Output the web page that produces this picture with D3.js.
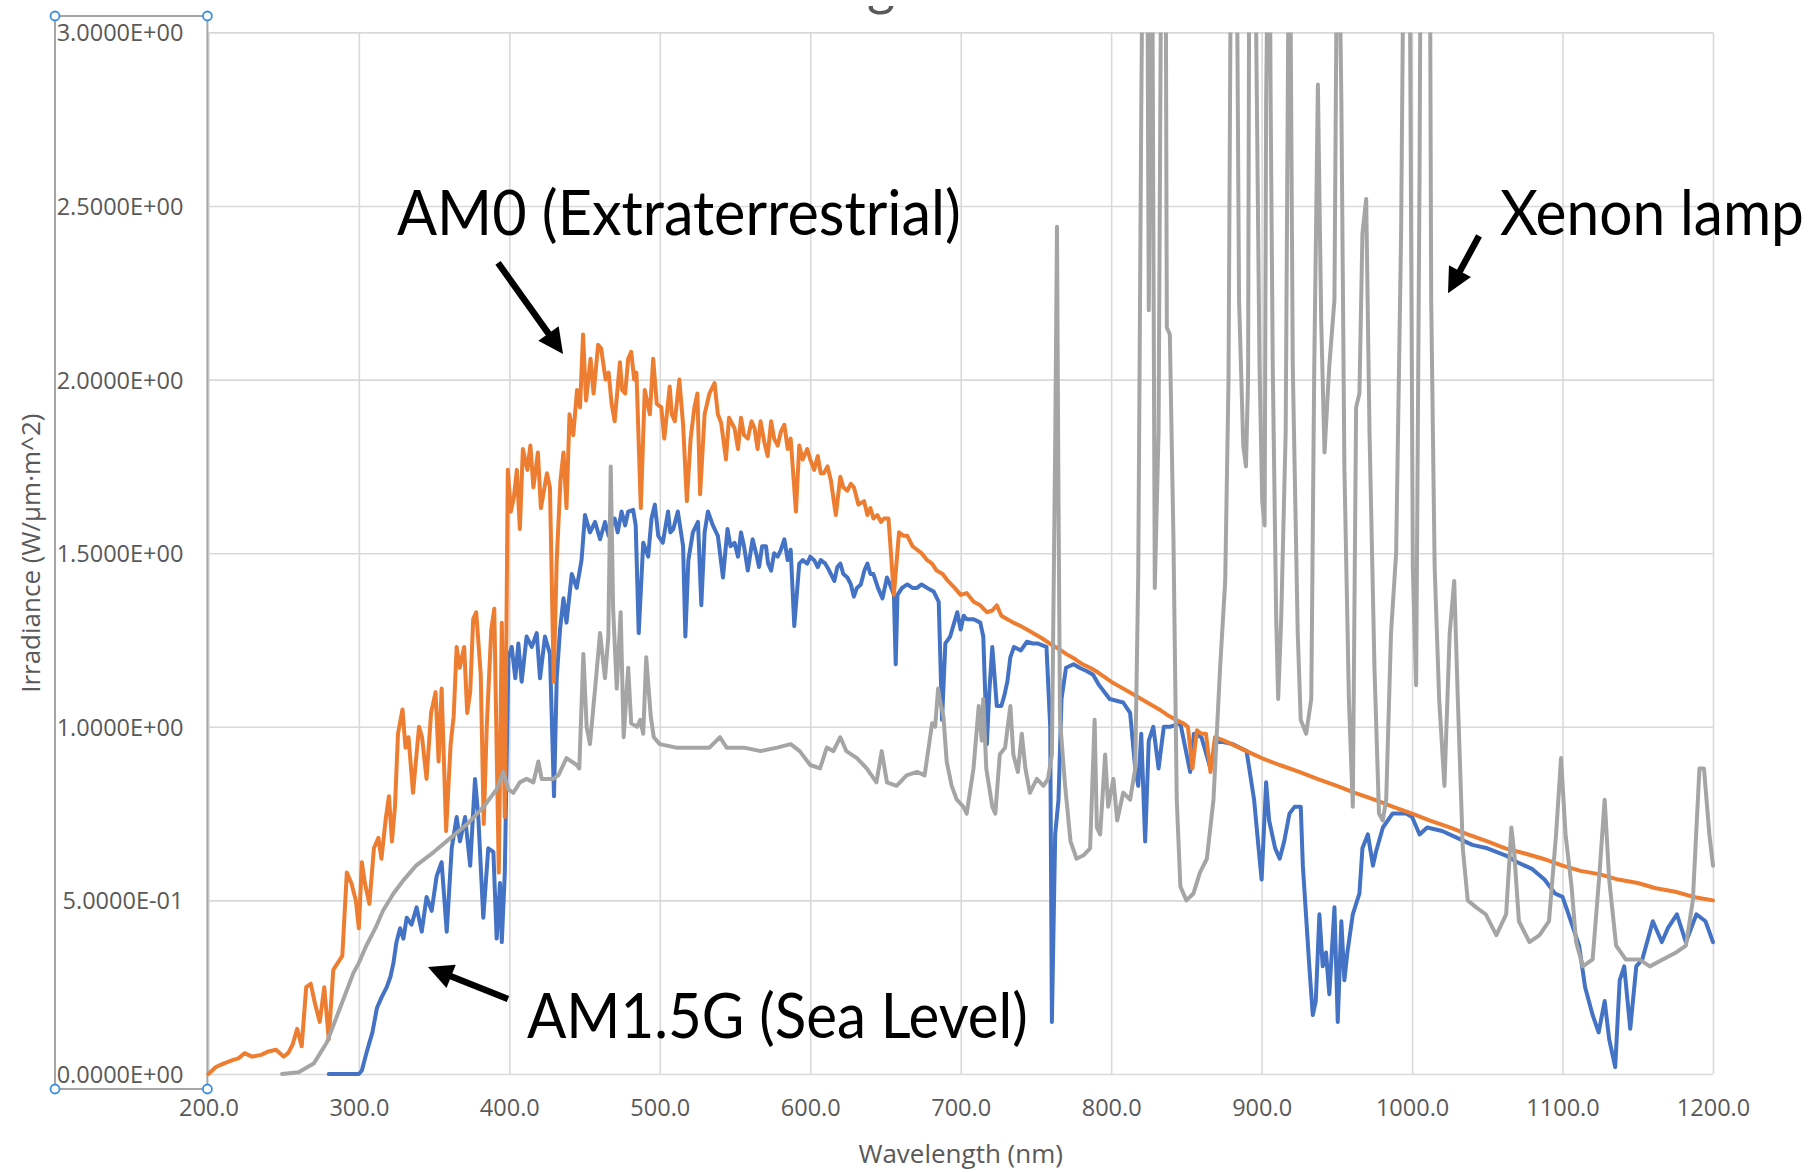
<!DOCTYPE html>
<html><head><meta charset="utf-8">
<script src="https://cdn.jsdelivr.net/npm/d3@7"></script>
<style>
html,body{margin:0;padding:0;background:#fff;}
svg{display:block;}
</style></head><body>
<svg id="chart" width="1815" height="1172"></svg>
<script>
// ---------- data ----------
const xTicks = [200, 300, 400, 500, 600, 700, 800, 900, 1000, 1100, 1200];
const yTicks = [0, 0.5, 1.0, 1.5, 2.0, 2.5, 3.0];

// AM0 (Extraterrestrial) : [wavelength nm, irradiance W/(µm·m²)]
const am0 = [
[200,0.0],[205,0.02],[210,0.03],[216,0.04],[220,0.045],[224,0.06],[229,0.05],[235,0.055],[240,0.065],[245,0.07],
[250,0.05],[253,0.06],[256,0.085],[259,0.13],[262,0.08],[265,0.25],[268,0.26],[271,0.2],[274,0.15],[277,0.25],
[280,0.1],[283,0.3],[286,0.32],[289,0.34],[292,0.58],[295,0.55],[298,0.5],[300,0.42],[302,0.61],[304,0.55],
[307,0.49],[310,0.65],[313,0.68],[315,0.62],[318,0.74],[320,0.8],[322,0.67],[324,0.77],[326,0.98],[329,1.05],
[331,0.94],[333,0.97],[336,0.81],[340,1.0],[342,0.97],[345,0.85],[348,1.04],[351,1.1],[353,0.9],[355,1.11],
[358,0.7],[361,0.95],[363,1.03],[365,1.23],[367,1.17],[370,1.23],[372,1.04],[374,1.1],[376,1.31],[378,1.33],
[381,1.15],[383,0.72],[385,1.0],[388,1.28],[390,1.34],[393,0.58],[395,1.3],[397,0.74],[399,1.74],[401,1.62],
[403,1.66],[405,1.74],[407,1.57],[409,1.8],[412,1.74],[414,1.81],[416,1.69],[419,1.79],[421,1.63],[425,1.73],
[427,1.69],[429.5,1.13],[431.5,1.48],[434,1.71],[436,1.79],[438,1.63],[440,1.9],[442.5,1.84],[445,1.97],[447,1.92],
[449,2.13],[451,1.94],[454,2.06],[456,1.96],[459,2.1],[461,2.09],[464,2.0],[466,2.02],[468,1.93],[470,1.88],
[473.5,2.05],[475,1.97],[477,1.96],[479,2.06],[481,2.08],[483,2.0],[484.5,2.02],[487.4,1.63],[490,1.97],[493.4,1.9],
[495.6,2.06],[498,1.93],[501,1.92],[503,1.83],[506.6,1.98],[508,1.9],[510,1.88],[513,2.0],[515.5,1.87],[518,1.65],
[520.5,1.83],[523,1.92],[525,1.96],[526.8,1.67],[529.8,1.9],[533,1.96],[536.4,1.99],[538.6,1.9],[540.8,1.875],[544,1.77],
[546,1.89],[549.7,1.86],[552,1.8],[554,1.89],[556,1.84],[558.5,1.83],[561,1.88],[563,1.86],[565,1.8],[567,1.88],
[569.5,1.82],[571.7,1.78],[574,1.88],[576,1.83],[578.4,1.81],[580.5,1.85],[582.8,1.87],[585,1.8],[587,1.83],[590.5,1.62],
[592.7,1.81],[595,1.77],[598,1.8],[600,1.77],[602.6,1.74],[605,1.78],[607,1.73],[609,1.73],[611.5,1.75],[613.7,1.71],
[617,1.61],[620,1.72],[622,1.69],[624.7,1.68],[627,1.7],[629,1.69],[632,1.64],[635.8,1.65],[638,1.61],[640,1.63],
[642,1.6],[644.6,1.61],[647,1.59],[649,1.6],[652,1.6],[655.6,1.38],[659,1.56],[662,1.55],[664.5,1.55],[668,1.52],
[671,1.51],[674,1.5],[677.7,1.48],[681,1.47],[684,1.45],[688,1.44],[691.5,1.42],[696,1.4],[700,1.38],[704,1.385],
[708.6,1.36],[713,1.35],[717.4,1.33],[721,1.335],[724,1.35],[727,1.32],[731,1.31],[735,1.3],[740,1.29],[744,1.28],
[748,1.27],[754,1.255],[759,1.24],[765,1.225],[770,1.21],[776,1.195],[781,1.18],[786,1.17],[790,1.16],[795,1.145],
[800,1.13],[806,1.115],[812,1.1],[818,1.085],[826,1.065],[832,1.05],[837,1.035],[843,1.02],[848,1.01],[851,1.0],
[854,0.88],[857,0.99],[860,0.98],[863,0.98],[866,0.87],[869,0.97],[875,0.96],[880,0.95],[885,0.94],[890,0.93],
[895,0.92],[900,0.91],[912,0.89],[925,0.87],[937,0.85],[950,0.83],[962,0.81],[975,0.79],[987,0.77],[1000,0.75],
[1012,0.73],[1025,0.71],[1037,0.69],[1050,0.67],[1062,0.65],[1075,0.635],[1087,0.62],[1100,0.6],[1112,0.585],[1125,0.575],
[1137,0.56],[1150,0.55],[1162,0.535],[1175,0.525],[1187,0.51],[1200,0.5]
];

// AM1.5G (Sea Level)
const am15g = [
[280,0.0],[300,0.0],[302,0.01],[305,0.06],[309,0.12],[312,0.19],[315,0.22],[318.5,0.25],[321,0.28],[323,0.32],
[325,0.38],[327.4,0.42],[329.6,0.39],[331.8,0.45],[335,0.43],[338.4,0.48],[341.8,0.41],[345,0.51],[348.4,0.47],[351.7,0.57],
[355,0.61],[358.4,0.41],[361.7,0.65],[365,0.74],[367.2,0.67],[370.6,0.74],[374,0.6],[377.2,0.85],[379.4,0.74],[382.7,0.45],
[386,0.65],[389.4,0.64],[391.6,0.39],[393.8,0.55],[395,0.38],[397,0.58],[399.4,1.2],[401.6,1.23],[404,1.14],[406,1.24],
[408.2,1.13],[411.5,1.26],[414.9,1.23],[418.2,1.27],[420.4,1.14],[423.7,1.26],[427,1.21],[429.7,0.8],[431.5,1.14],[433.7,1.28],
[436,1.37],[438,1.3],[441.5,1.44],[444.8,1.4],[448,1.48],[450.3,1.61],[453.6,1.56],[457,1.59],[460.3,1.54],[463.6,1.59],
[466,1.55],[468,1.58],[470,1.6],[472,1.56],[474.6,1.62],[477,1.58],[479,1.62],[482.3,1.625],[484,1.58],[486,1.27],
[489,1.53],[492.3,1.49],[494.5,1.6],[496.7,1.64],[499,1.55],[502,1.53],[505.5,1.62],[507,1.56],[509,1.57],[512,1.62],
[515.5,1.52],[517,1.26],[519,1.48],[522,1.56],[525.4,1.59],[527.6,1.35],[529.8,1.56],[532,1.62],[535.3,1.58],[538.6,1.55],
[542,1.43],[545,1.57],[547,1.52],[549.7,1.53],[552,1.49],[554,1.56],[556,1.52],[558.5,1.45],[561.7,1.54],[564,1.5],
[566,1.46],[568,1.52],[570.6,1.52],[572,1.47],[574,1.45],[576,1.5],[578.4,1.49],[580.5,1.51],[582.8,1.54],[585,1.48],
[587,1.51],[589.4,1.29],[592.7,1.47],[595,1.48],[598,1.47],[600,1.49],[602.6,1.48],[605,1.46],[607,1.48],[610,1.47],
[612.6,1.45],[616,1.42],[618,1.46],[620,1.47],[622,1.44],[624.7,1.43],[627,1.41],[629,1.375],[631,1.4],[633.6,1.41],
[636,1.45],[638,1.47],[640,1.44],[642,1.44],[645,1.4],[648,1.37],[651,1.43],[653,1.41],[655.6,1.38],[656.8,1.18],
[658,1.38],[661,1.4],[664.5,1.41],[668,1.4],[671,1.4],[674,1.41],[677.7,1.4],[682,1.39],[685.4,1.36],[687.6,1.02],
[689.8,1.24],[693,1.26],[695,1.29],[697.7,1.33],[700,1.28],[702,1.32],[704,1.31],[708.6,1.31],[713,1.3],[715,1.26],
[717.4,0.95],[719,1.1],[721,1.23],[724,1.06],[727,1.06],[729,1.09],[731,1.13],[733,1.2],[735.4,1.23],[740,1.22],
[744,1.245],[748,1.24],[751,1.24],[757,1.23],[759.5,1.0],[760.6,0.15],[762.8,0.69],[765,0.79],[767,1.08],[770,1.17],
[775,1.18],[779,1.17],[784,1.16],[788,1.15],[792,1.12],[799,1.08],[808,1.07],[812.6,1.04],[816,0.88],[818,0.83],
[820,0.98],[822.6,0.67],[825,0.96],[828,1.0],[831.5,0.88],[835,1.0],[839,1.0],[846,1.01],[852.5,0.87],[855,0.98],
[860,0.97],[866,0.88],[870,0.96],[881,0.95],[890,0.93],[895,0.79],[898,0.65],[900,0.56],[903,0.84],[905,0.73],
[909,0.65],[912,0.62],[915,0.67],[918.5,0.75],[922,0.77],[926,0.77],[927.4,0.6],[931.7,0.31],[934,0.17],[936,0.21],
[938.4,0.46],[940.6,0.31],[942.8,0.35],[945,0.23],[948.4,0.48],[950.6,0.15],[953,0.44],[955,0.27],[957,0.35],[960.6,0.46],
[965,0.52],[967,0.65],[970.6,0.69],[974,0.6],[976,0.64],[980.6,0.71],[987,0.75],[996,0.75],[1000,0.74],[1005,0.69],
[1010,0.71],[1020,0.7],[1030,0.68],[1040,0.66],[1050,0.65],[1062,0.63],[1070,0.61],[1080,0.59],[1088,0.56],[1095,0.52],
[1100,0.51],[1104,0.46],[1111,0.37],[1115,0.25],[1120,0.17],[1124,0.12],[1128,0.21],[1131,0.1],[1133,0.06],[1135,0.02],
[1138,0.27],[1141,0.31],[1145,0.13],[1149,0.31],[1153,0.33],[1160,0.44],[1166,0.38],[1170,0.42],[1176,0.46],[1182,0.38],
[1189,0.46],[1195,0.44],[1200,0.38]
];

// Xenon lamp (values above 3.0 run off the top of the axis)
const xenon = [
[249,0.0],[260,0.005],[270,0.03],[278.6,0.09],[287.5,0.19],[296.3,0.29],[300,0.32],[305,0.37],[311,0.42],[316,0.47],
[323,0.52],[330,0.56],[338,0.6],[350,0.64],[361,0.68],[372,0.72],[383,0.77],[391.6,0.82],[396,0.87],[399.4,0.82],
[402.7,0.81],[407,0.84],[411.5,0.85],[416,0.84],[419.3,0.9],[421.5,0.85],[429,0.85],[432.6,0.86],[438,0.91],[444.8,0.89],
[446.5,0.88],[449.2,1.21],[451.4,1.0],[453.6,0.95],[457,1.11],[460.3,1.27],[463.6,1.14],[465.8,1.26],[467.4,1.75],[469,1.34],
[471.4,1.11],[474,1.33],[476,0.97],[479,1.17],[481,1.01],[485,1.0],[487,1.02],[489,0.98],[491,1.2],[494,1.03],
[496,0.97],[500,0.95],[511,0.94],[522,0.94],[533,0.94],[540,0.97],[544.5,0.94],[556,0.94],[567,0.93],[578,0.94],
[587,0.95],[593,0.93],[600,0.89],[606.5,0.88],[611,0.94],[615.4,0.93],[620,0.97],[624,0.93],[631,0.91],[637.5,0.88],
[644,0.84],[647.5,0.93],[651,0.84],[657.4,0.83],[664,0.86],[671,0.87],[676,0.86],[681,1.01],[683,1.0],[685,1.11],
[686,1.08],[688.5,1.03],[690.7,0.9],[694,0.83],[697.4,0.79],[701.7,0.77],[704,0.75],[708.5,0.88],[712,1.06],[714,0.96],
[715,1.08],[717,0.88],[721,0.77],[723,0.75],[726,0.92],[729.5,0.94],[733,1.06],[735,0.92],[738,0.87],[740.6,0.98],
[743,0.88],[746,0.81],[750.6,0.85],[755,0.83],[758,0.85],[760.6,0.92],[762.8,1.81],[764,2.44],[765,1.65],[766,1.02],
[769.4,0.83],[773,0.67],[777,0.62],[781.6,0.63],[786,0.65],[789,1.02],[790.5,0.71],[792.7,0.69],[796,0.92],[798,0.77],
[801.5,0.85],[804,0.73],[808,0.81],[812.6,0.79],[816,0.88],[818,1.44],[820,2.77],[821.5,3.6],[823.7,3.6],[825,2.2],
[827,3.6],[829,1.4],[831.5,1.85],[833.7,3.6],[836,3.6],[837,2.15],[839,2.13],[841.4,1.54],[843.6,0.79],[846,0.54],
[850,0.5],[854.7,0.52],[859,0.58],[863.6,0.62],[868,0.79],[872.4,1.17],[875.8,1.42],[878,2.0],[880,3.6],[883,3.6],
[885,2.23],[887.8,1.81],[889.6,1.75],[891,2.0],[892,3.6],[895,3.6],[898.6,2.04],[900.4,1.65],[902,1.58],[903,2.8],
[905,3.6],[906,2.8],[907.4,2.04],[909.7,1.31],[911,1.08],[913,1.31],[916,1.85],[918.5,3.6],[920.7,2.04],[924,1.27],
[926,1.02],[929.6,0.98],[933,1.08],[935,2.04],[937.4,2.85],[939.6,2.17],[941.8,1.79],[945,2.04],[948.4,2.23],[950.6,3.6],
[953,2.8],[955,1.75],[958,1.08],[960.6,0.77],[962.8,1.92],[965,1.96],[967,2.42],[969.5,2.52],[971.7,1.85],[975,1.17],
[978,0.75],[980.5,0.73],[982.8,0.79],[986,1.27],[989.4,1.5],[992.7,2.42],[995,3.6],[998,3.6],[1000.5,1.46],[1002.7,1.12],
[1005,2.62],[1006,3.6],[1011.6,3.6],[1012.7,2.23],[1015,1.46],[1018,1.08],[1021.5,0.83],[1025,1.27],[1028,1.42],[1030.4,1.08],
[1033.7,0.65],[1037,0.5],[1042.6,0.48],[1049,0.46],[1056,0.4],[1062.5,0.46],[1066,0.71],[1068,0.63],[1071,0.44],[1078,0.38],
[1084.7,0.4],[1091,0.44],[1095.7,0.69],[1099,0.91],[1102,0.69],[1106,0.54],[1109,0.38],[1113.5,0.31],[1120,0.33],[1124.6,0.58],
[1128,0.79],[1131,0.56],[1135.6,0.37],[1142,0.33],[1151,0.33],[1158,0.31],[1166.6,0.33],[1175.5,0.35],[1182,0.37],[1186.6,0.5],
[1191,0.88],[1194,0.88],[1197.6,0.69],[1200,0.6]
];

const seriesNames = ["AM1.5G (Sea Level)", "AM0 (Extraterrestrial)", "Xenon lamp"];
const seriesColors = ["#4472C4", "#ED7D31", "#A5A5A5"];

// annotations, anchored in data space [nm, W/(µm·m²)]
const labelTexts = ["AM0 (Extraterrestrial)", "Xenon lamp", "AM1.5G (Sea Level)"];
const labelAnchors = [[325.3, 2.416], [1058.4, 2.416], [411.7, 0.104]];
const labelWidths = [564, 304, 501];
const arrowTails = [[392.5, 2.336], [1044.5, 2.414], [399.1, 0.216]];
const arrowTips  = [[435.7, 2.074], [1023.9, 2.249], [345.9, 0.308]];

// ---------- chart ----------
const svg = d3.select("#chart");
const plot = {left: 208.4, right: 1713, top: 32.4, bottom: 1074};
const x = d3.scaleLinear().domain([200, 1200]).range([plot.left, plot.right]);
const y = d3.scaleLinear().domain([0, 3]).range([plot.bottom, plot.top]);
const tickFont = "'Open Sans', 'DejaVu Sans', sans-serif";
const grey = "#595959";

svg.append("rect").attr("width", 1815).attr("height", 1172).attr("fill", "#fff");

const defs = svg.append("defs");
defs.append("clipPath").attr("id", "plotClip").append("rect")
  .attr("x", plot.left - 3).attr("y", plot.top)
  .attr("width", plot.right - plot.left + 6).attr("height", plot.bottom - plot.top + 4);
defs.append("clipPath").attr("id", "titleClip").append("rect")
  .attr("x", 840).attr("y", 6).attr("width", 80).attr("height", 16);

// cut-off chart title remnant
svg.append("text").attr("clip-path", "url(#titleClip)")
  .attr("x", 881).attr("y", 5).attr("text-anchor", "middle")
  .attr("font-family", "Lato, sans-serif").attr("font-size", 54).attr("fill", grey)
  .text("g");

// vertical gridlines
svg.append("g").attr("transform", `translate(0,${plot.bottom})`)
  .call(d3.axisBottom(x).tickValues(xTicks).tickSize(-(plot.bottom - plot.top)).tickFormat(""))
  .call(g => g.select(".domain").remove())
  .call(g => g.selectAll("line").attr("stroke", "#d9d9d9").attr("stroke-width", 1.6));
// horizontal gridlines
svg.append("g").attr("transform", `translate(${plot.left},0)`)
  .call(d3.axisLeft(y).tickValues(yTicks).tickSize(-(plot.right - plot.left)).tickFormat(""))
  .call(g => g.select(".domain").remove())
  .call(g => g.selectAll("line").attr("stroke", "#d9d9d9").attr("stroke-width", 1.6));

// selected-axis frame with handles (as in the source screenshot)
const frame = {x0: 55, x1: plot.left - 1, y0: 16, y1: 1089};
svg.append("rect").attr("x", frame.x0).attr("y", frame.y0)
  .attr("width", frame.x1 - frame.x0).attr("height", frame.y1 - frame.y0)
  .attr("fill", "none").attr("stroke", "#a6a6a6").attr("stroke-width", 2);

// y tick labels
const expFmt = v => {
  const [m, e] = v.toExponential(4).split("e");
  return m + "E" + e[0] + e.slice(1).padStart(2, "0");
};
svg.append("g").attr("transform", `translate(${plot.left},0)`)
  .call(d3.axisLeft(y).tickValues(yTicks).tickSize(0).tickPadding(25).tickFormat(expFmt))
  .call(g => g.select(".domain").remove())
  .call(g => g.selectAll("text").attr("font-family", tickFont).attr("font-size", 23.5)
      .attr("fill", grey).attr("dy", "0.36em"));

// x tick labels
svg.append("g").attr("transform", `translate(0,${plot.bottom})`)
  .call(d3.axisBottom(x).tickValues(xTicks).tickSize(0).tickPadding(25).tickFormat(d3.format(".1f")))
  .call(g => g.select(".domain").remove())
  .call(g => g.selectAll("text").attr("font-family", tickFont).attr("font-size", 23.5).attr("fill", grey));

// axis titles
svg.append("text").attr("x", (plot.left + plot.right) / 2).attr("y", 1163)
  .attr("text-anchor", "middle").attr("font-family", tickFont).attr("font-size", 26)
  .attr("fill", grey).text("Wavelength (nm)");
svg.append("text").attr("transform", `translate(40,${(plot.top + plot.bottom) / 2}) rotate(-90)`)
  .attr("text-anchor", "middle").attr("font-family", tickFont).attr("font-size", 26)
  .attr("fill", grey).text("Irradiance (W/µm·m^2)");

// series lines
const line = d3.line().x(d => x(d[0])).y(d => y(d[1]));
const seriesData = [am15g, am0, xenon];
svg.append("g").attr("clip-path", "url(#plotClip)")
  .selectAll("path").data(seriesData).join("path")
  .attr("d", line).attr("fill", "none")
  .attr("stroke", (d, i) => seriesColors[i]).attr("stroke-width", 4)
  .attr("stroke-linejoin", "round").attr("stroke-linecap", "round");

// handles on the selected-axis frame
[[frame.x0, frame.y0], [frame.x1, frame.y0], [frame.x0, frame.y1], [frame.x1, frame.y1]].forEach(p => {
  svg.append("circle").attr("cx", p[0]).attr("cy", p[1]).attr("r", 4.5)
    .attr("fill", "#fff").attr("stroke", "#3b8ee0").attr("stroke-width", 1.8);
});

// annotations
const ann = svg.append("g");
labelTexts.forEach((t, i) => {
  ann.append("text").attr("x", x(labelAnchors[i][0])).attr("y", y(labelAnchors[i][1]))
    .attr("font-family", "Lato, 'Open Sans', sans-serif").attr("font-size", 61)
    .attr("textLength", labelWidths[i]).attr("lengthAdjust", "spacingAndGlyphs")
    .attr("fill", "#000").text(t);
});
arrowTails.forEach((tail, i) => {
  const x1 = x(tail[0]), y1 = y(tail[1]);
  const x2 = x(arrowTips[i][0]), y2 = y(arrowTips[i][1]);
  const dx = x2 - x1, dy = y2 - y1, L = Math.hypot(dx, dy);
  const ux = dx / L, uy = dy / L, headLen = 25, headW = 25;
  const bx = x2 - ux * headLen, by = y2 - uy * headLen;
  ann.append("line").attr("x1", x1).attr("y1", y1).attr("x2", bx + ux * 3).attr("y2", by + uy * 3)
    .attr("stroke", "#000").attr("stroke-width", 6.5);
  ann.append("path").attr("fill", "#000")
    .attr("d", `M${x2},${y2}L${bx - uy * headW / 2},${by + ux * headW / 2}L${bx + uy * headW / 2},${by - ux * headW / 2}Z`);
});
</script>
</body></html>
